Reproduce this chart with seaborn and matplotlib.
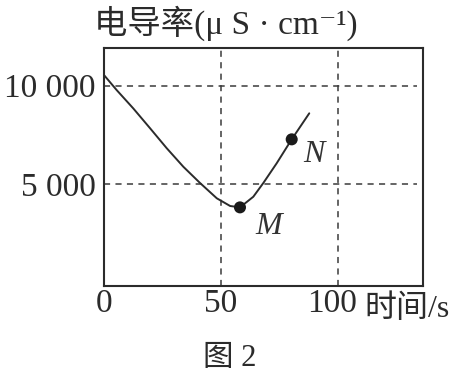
import matplotlib
matplotlib.use("Agg")
import matplotlib.pyplot as plt
import matplotlib.transforms as mtransforms
import seaborn as sns
import pandas as pd

# Data
time_s = [0, 5.4, 12.5, 19.7, 26.8, 33.9, 41.0, 48.2, 53.9, 58.1, 63.8, 68.1, 73.8, 80.2, 87.7]
conductivity = [10540, 9780, 8850, 7840, 6830, 5890, 5070, 4290, 3900, 3830, 4370, 5070, 6070, 7280, 8600]
point_names = ["M", "N"]
point_time = [58.1, 80.2]
point_cond = [3830, 7280]
x_ticks = [0, 50, 100]
x_tick_labels = ["0", "50", "100"]
y_ticks = [5000, 10000]
y_tick_labels = ["5 000", "10 000"]
title_text = "电导率(μ S · cm⁻¹)"
xlabel_text = "时间/s"
caption_text = "图 2"

sns.set_theme(style="white")
plt.rcParams["font.family"] = ["Liberation Serif", "DejaVu Serif", "Noto Sans CJK SC"]

ink = "#2b2b2b"
fig = plt.figure(figsize=(4.55, 3.74), dpi=100)
ax = fig.add_axes([104 / 455, 1 - 286 / 374, 319 / 455, 238 / 374])

curve = pd.DataFrame({"t": time_s, "c": conductivity})
pts = pd.DataFrame({"t": point_time, "c": point_cond, "name": point_names})

sns.lineplot(data=curve, x="t", y="c", ax=ax, sort=False, color=ink, lw=1.4)
sns.scatterplot(data=pts, x="t", y="c", ax=ax, color="#1a1a1a", s=75, edgecolor="none", zorder=5)

ax.set_xlim(0, 136.3)
ax.set_ylim(-157, 11912)
ax.set_xticks(x_ticks)
ax.set_xticklabels(x_tick_labels)
ax.set_yticks(y_ticks)
ax.set_yticklabels(y_tick_labels)
ax.tick_params(axis="both", length=0, labelsize=24, colors=ink)
ax.tick_params(axis="y", pad=6)
ax.tick_params(axis="x", pad=2)
ax.set_xlabel("")
ax.set_ylabel("")

# nudge the "100" label a little to the left, as in the reference
lab100 = ax.get_xticklabels()[2]
lab100.set_transform(lab100.get_transform() + mtransforms.ScaledTranslation(-6 / 100, 0, fig.dpi_scale_trans))

for v in x_ticks[1:]:
    ax.axvline(v, color="#3a3a3a", lw=1.1, ls=(0, (4, 3.5)), zorder=1)
for v in y_ticks:
    ax.axhline(v, xmax=0.98, color="#3a3a3a", lw=1.1, ls=(0, (4, 3.5)), zorder=1)

for s in ax.spines.values():
    s.set_color(ink)
    s.set_linewidth(1.5)

offsets = {"M": (29, -5), "N": (22, -1)}
for name, t, c in zip(point_names, point_time, point_cond):
    ax.annotate(name, (t, c), xytext=offsets[name], textcoords="offset pixels",
                fontsize=23, style="italic", color="#333333", ha="center", va="top",
                family=["Liberation Serif"])

fig.text(226 / 455, 1 - 23 / 374, title_text, ha="center", va="center",
         fontsize=24, color=ink, fontweight="light",
         family=["Liberation Serif", "DejaVu Serif", "Noto Sans CJK SC"])
fig.text(364 / 455, 1 - 309 / 374, xlabel_text, ha="left", va="center",
         fontsize=23, color=ink, fontweight="light",
         family=["Liberation Serif", "Noto Sans CJK SC"])
fig.text(230 / 455, 1 - 358 / 374, caption_text, ha="center", va="center",
         fontsize=22, color=ink, fontweight="light",
         family=["Liberation Serif", "Noto Sans CJK SC"])

fig.savefig("out.png", dpi=100, facecolor="white")
